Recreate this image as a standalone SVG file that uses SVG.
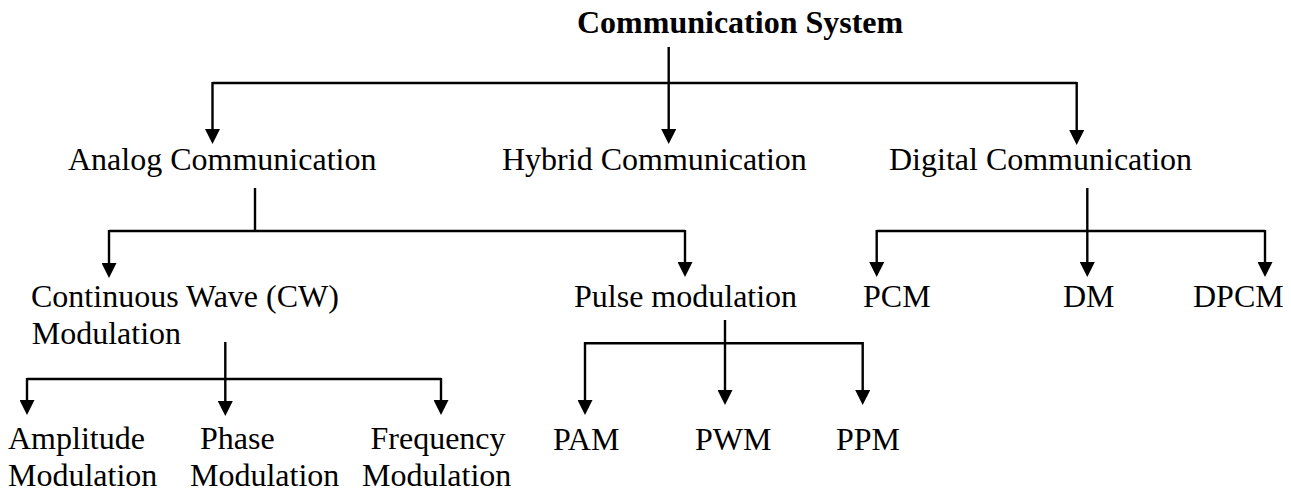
<svg xmlns="http://www.w3.org/2000/svg" width="1291" height="492" viewBox="0 0 1291 492">
  <style>
    .lbl { font-family: "Liberation Serif", "Times New Roman", serif; font-size: 32px; fill: #000; }
    .title { font-weight: bold; }
    .wire { stroke: #000; stroke-width: 2.4; fill: none; }
    .arrow { marker-end: url(#head); }
  </style>
  <defs>
    <marker id="head" viewBox="0 0 15 15" refX="0" refY="7.5" markerWidth="15" markerHeight="15" markerUnits="userSpaceOnUse" orient="auto">
      <path d="M0,0 L15,7.5 L0,15 Z" fill="#000"/>
    </marker>
  </defs>

  <rect width="1291" height="492" fill="#fff"/>

  <!-- connectors -->
  <g id="connectors">
    <!-- root level -->
    <line class="wire arrow" x1="668.7" y1="47" x2="668.7" y2="129"/>
    <line class="wire" x1="212.5" y1="83" x2="1076.7" y2="83"/>
    <line class="wire arrow" x1="212.5" y1="82" x2="212.5" y2="129"/>
    <line class="wire arrow" x1="1076.7" y1="82" x2="1076.7" y2="130"/>

    <!-- analog branch -->
    <line class="wire" x1="255" y1="188" x2="255" y2="231"/>
    <line class="wire" x1="109" y1="231" x2="685" y2="231"/>
    <line class="wire arrow" x1="109" y1="230" x2="109" y2="263"/>
    <line class="wire arrow" x1="685" y1="230" x2="685" y2="262"/>

    <!-- digital branch -->
    <line class="wire arrow" x1="1087.3" y1="188" x2="1087.3" y2="262"/>
    <line class="wire" x1="876.7" y1="231" x2="1265" y2="231"/>
    <line class="wire arrow" x1="876.7" y1="230" x2="876.7" y2="262"/>
    <line class="wire arrow" x1="1265" y1="230" x2="1265" y2="262"/>

    <!-- continuous wave branch -->
    <line class="wire" x1="27" y1="379" x2="441" y2="379"/>
    <line class="wire arrow" x1="225.3" y1="342" x2="225.3" y2="401" stroke-width="3"/>
    <line class="wire arrow" x1="27" y1="378" x2="27" y2="400"/>
    <line class="wire arrow" x1="441" y1="378" x2="441" y2="400"/>

    <!-- pulse branch -->
    <line class="wire" x1="585" y1="343.3" x2="862.7" y2="343.3"/>
    <line class="wire arrow" x1="725" y1="320" x2="725" y2="390"/>
    <line class="wire arrow" x1="585" y1="342" x2="585" y2="400"/>
    <line class="wire arrow" x1="862.7" y1="342" x2="862.7" y2="390"/>
  </g>

  <!-- nodes -->
  <g id="root"><text class="lbl title" x="577" y="33">Communication System</text></g>
  <g id="analog"><text class="lbl" x="68" y="170">Analog Communication</text></g>
  <g id="hybrid"><text class="lbl" x="502" y="170">Hybrid Communication</text></g>
  <g id="digital"><text class="lbl" x="889" y="170">Digital Communication</text></g>

  <g id="cw">
    <text class="lbl" x="31" y="307">Continuous Wave (CW)</text>
    <text class="lbl" x="31.7" y="343.7">Modulation</text>
  </g>
  <g id="pulse"><text class="lbl" x="574" y="307">Pulse modulation</text></g>
  <g id="pcm"><text class="lbl" x="863" y="307">PCM</text></g>
  <g id="dm"><text class="lbl" x="1063" y="307">DM</text></g>
  <g id="dpcm"><text class="lbl" x="1193" y="307">DPCM</text></g>

  <g id="am">
    <text class="lbl" x="8" y="449">Amplitude</text>
    <text class="lbl" x="8" y="486">Modulation</text>
  </g>
  <g id="pm">
    <text class="lbl" x="200" y="449">Phase</text>
    <text class="lbl" x="190" y="486">Modulation</text>
  </g>
  <g id="fm">
    <text class="lbl" x="370.5" y="449">Frequency</text>
    <text class="lbl" x="362" y="486">Modulation</text>
  </g>
  <g id="pam"><text class="lbl" x="553" y="450">PAM</text></g>
  <g id="pwm"><text class="lbl" x="695" y="450">PWM</text></g>
  <g id="ppm"><text class="lbl" x="836" y="450">PPM</text></g>
</svg>
